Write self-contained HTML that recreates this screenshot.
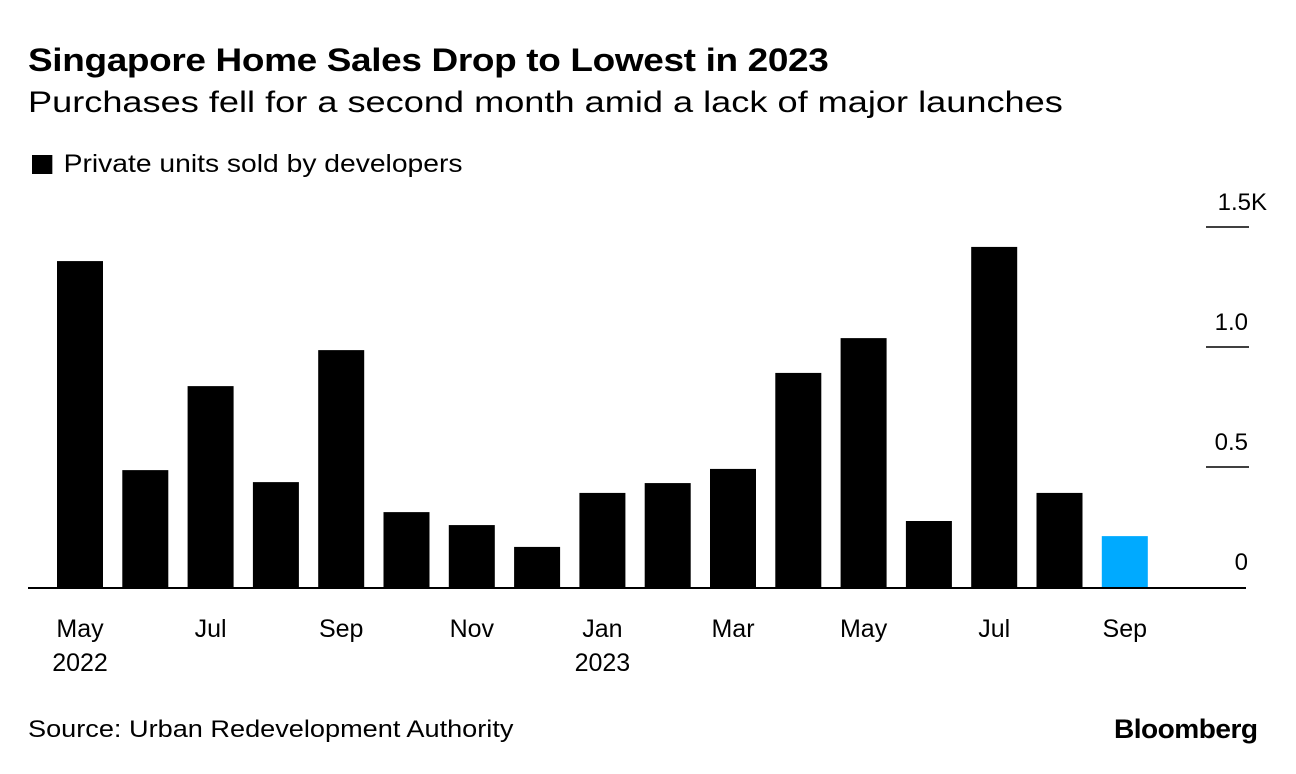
<!DOCTYPE html>
<html><head><meta charset="utf-8"><style>
body{margin:0;background:#fff;font-family:"Liberation Sans",sans-serif;}
#wrap{position:relative;width:1296px;height:774px;overflow:hidden;}
.t{position:absolute;white-space:nowrap;color:#000;transform-origin:0 0;}
</style></head><body>
<div id="wrap">
<div class="t" style="left:28px;top:42px;font-size:32px;font-weight:bold;letter-spacing:-0.3px;transform:scaleX(1.155);">Singapore Home Sales Drop to Lowest in 2023</div>
<div class="t" style="left:28px;top:86px;font-size:30px;transform:scaleX(1.205);">Purchases fell for a second month amid a lack of major launches</div>
<div class="t" style="left:32px;top:150px;font-size:25px;transform:scaleX(1.13);"><span style="display:inline-block;width:18px;height:19px;background:#000;margin-right:10px;vertical-align:-2px;"></span>Private units sold by developers</div>
<svg id="chart" width="1296" height="774" style="position:absolute;left:0;top:0"></svg>
<div class="t" style="left:28px;top:716px;font-size:24px;transform:scaleX(1.13);">Source: Urban Redevelopment Authority</div>
<div class="t" style="left:1114px;top:714px;font-size:27px;font-weight:bold;letter-spacing:-0.5px;transform:scaleX(1.04);">Bloomberg</div>
</div>
<script>
const months=["May 2022","Jun 2022","Jul 2022","Aug 2022","Sep 2022","Oct 2022","Nov 2022","Dec 2022","Jan 2023","Feb 2023","Mar 2023","Apr 2023","May 2023","Jun 2023","Jul 2023","Aug 2023","Sep 2023"];
const unitsSold=[1358,487,837,437,987,312,258,167,392,433,492,892,1037,275,1417,392,212];
const yTicks=[0,500,1000,1500];
const yTickLabels=["0","0.5","1.0","1.5K"];
const xLabels=[["May","2022"],["",""],["Jul",""],["",""],["Sep",""],["",""],["Nov",""],["",""],["Jan","2023"],["",""],["Mar",""],["",""],["May",""],["",""],["Jul",""],["",""],["Sep",""]];
const NS="http://www.w3.org/2000/svg";
const svg=document.getElementById('chart');
const y0=587,pxPer=240/1000;
const yS=v=>y0-v*pxPer;
const step=65.3,x0=57,bw=46;
const xS=i=>x0+i*step;
function mk(t,a){const e=document.createElementNS(NS,t);for(const k in a)e.setAttribute(k,a[k]);svg.appendChild(e);return e;}
unitsSold.forEach((v,i)=>{
  const r=mk('rect',{x:xS(i),y:yS(v),width:bw,height:y0-yS(v),fill:i===unitsSold.length-1?'#00aaff':'#000'});
  
  
});
const ax=mk('line',{x1:28,x2:1246,y1:y0+1,y2:y0+1,stroke:'#000','stroke-width':2});


yTicks.forEach((v,i)=>{
  if(v>0){const l=mk('line',{x1:1206,x2:1249,y1:yS(v),y2:yS(v),stroke:'#000','stroke-width':1.5});
  
  }
  const t=mk('text',{x:v===1500?1267:1248,y:yS(v)-17,'text-anchor':'end','font-size':24,'font-family':'Liberation Sans, sans-serif'});
  t.textContent=yTickLabels[i];
  
  
});
xLabels.forEach((l,i)=>{
  if(!l[0])return;
  const cx=xS(i)+bw/2;
  const t=mk('text',{x:cx,y:637,'text-anchor':'middle','font-size':25,'font-family':'Liberation Sans, sans-serif'});
  t.textContent=l[0];
  
  
  if(l[1]){const t2=mk('text',{x:cx,y:671,'text-anchor':'middle','font-size':25,'font-family':'Liberation Sans, sans-serif'});
  t2.textContent=l[1];
  
  }
});
</script>
</body></html>
